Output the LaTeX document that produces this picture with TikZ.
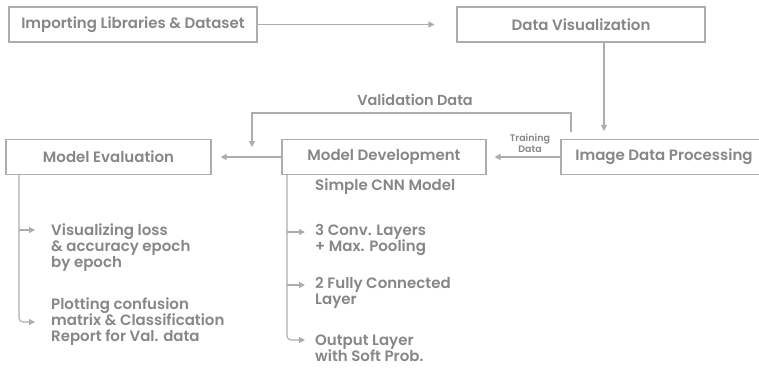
\documentclass[tikz,border=0pt]{standalone}
\usepackage{fontspec}
\setmainfont{Poppins}
\newfontfamily\popm{Poppins Medium}
\newfontfamily\popsb{Poppins SemiBold}
\usetikzlibrary{arrows.meta}
\definecolor{txt}{HTML}{878787}
\definecolor{ln}{HTML}{ADADAD}
\tikzset{
  box/.style={draw=ln, line width=1.1pt, rectangle, minimum height=35pt, inner sep=0pt,
    text=txt, font=\popsb\fontsize{15}{17}\selectfont},
  conn/.style={draw=ln, line width=1.1pt, -{Triangle[length=6pt,width=6pt]}},
  item/.style={text=txt, align=left, anchor=west, inner sep=0pt,
    font=\popsb\fontsize{15}{16}\selectfont},
}
\begin{document}
\begin{tikzpicture}[x=1pt,y=1pt]
\useasboundingbox[fill=white] (0,0) rectangle (759,-367);
% boxes
\node[box, minimum width=248pt] (imp) at (133,-24.5) {Importing Libraries \& Dataset};
\node[box, minimum width=248pt] (vis) at (581,-24.5) {Data Visualization};
\node[box, minimum width=206pt] (idp) at (664,-157) {Image Data Processing};
\node[box, minimum width=204pt] (dev) at (384,-157) {Model Development};
\node[box, minimum width=205pt] (eval) at (108.5,-157) {Model Evaluation};
% helper coordinates
\coordinate (vx) at (604,0);
\coordinate (vax) at (571,0);
\coordinate (vtop) at (571,-113);
\coordinate (vend) at (252,-147);
% main connectors
\draw[conn, shorten >=22pt] (imp) -- (vis);
\draw[conn, shorten >=8pt] (vis.south -| vx) -- (idp.north -| vx);
\draw[conn, shorten >=8pt] (idp) -- (dev);
\draw[conn, shorten >=9pt] (dev) -- (eval);
\draw[conn] ([yshift=7pt]idp.north -| vax) -- (vtop) -| (vend);
\node[text=txt, font=\popsb\fontsize{14.5}{16}\selectfont] (vlab) at (415,-100) {Validation Data};
\node[text=txt, align=center, inner sep=0pt, font=\popsb\fontsize{9.5}{11}\selectfont] (tlab) at (530,-143.5) {Training\\Data};
% evaluation list
\node[item] (e1) at (51,-248) {Visualizing loss\\\& accuracy epoch\\by epoch};
\node[item] (e2) at (51,-322) {Plotting confusion\\matrix \& Classification\\Report for Val. data};
\coordinate (ex) at (19,0);
\coordinate (e1t) at (35,-230);
\coordinate (e2t) at (35,-322);
\draw[conn, rounded corners=4pt] (eval.south -| ex) |- (e2t);
\draw[conn] (ex |- e1t) -- (e1t);
% development list
\node[item] (d0) at (315,-187) {Simple CNN Model};
\node[item] (d1) at (315,-240) {3 Conv. Layers\\+ Max. Pooling};
\node[item] (d2) at (315,-293) {2 Fully Connected\\Layer};
\node[item] (d3) at (315,-348) {Output Layer\\with Soft Prob.};
\coordinate (dx) at (287,0);
\coordinate (d1t) at (305,-232);
\coordinate (d2t) at (305,-285);
\coordinate (d3t) at (305,-340);
\draw[conn, rounded corners=4pt] (dev.south -| dx) |- (d3t);
\draw[conn] (dx |- d1t) -- (d1t);
\draw[conn] (dx |- d2t) -- (d2t);
\end{tikzpicture}
\end{document}
